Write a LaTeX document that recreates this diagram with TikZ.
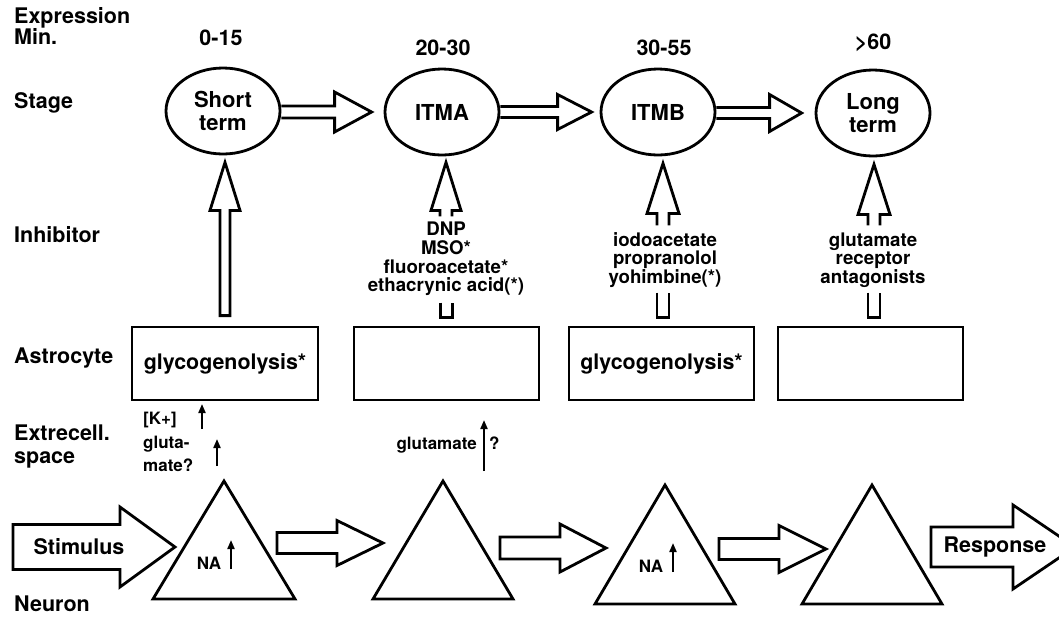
\documentclass[tikz,border=0pt]{standalone}
\usepackage{fontspec}
\setmainfont{TeX Gyre Heros}
\usetikzlibrary{shapes.geometric,arrows.meta,calc}
% horizontal block arrow: start, tip, shaft half-height, head half-height, head length, ending
\newcommand\hblock[6]{\draw[blk] let \p1=(#1),\p2=(#2) in (\x1,\y2+#3) -- (\x2-#5,\y2+#3) -- (\x2-#5,\y2+#4) -- (\x2,\y2) -- (\x2-#5,\y2-#4) -- (\x2-#5,\y2-#3) -- (\x1,\y2-#3) #6;}
% vertical block arrow pointing up: bottom, tip, shaft half-width, head half-width, head length, ending
\newcommand\vblock[6]{\draw[blk] let \p1=(#1),\p2=(#2) in (\x2-#3,\y1) -- (\x2-#3,\y2-#5) -- (\x2-#4,\y2-#5) -- (\x2,\y2) -- (\x2+#4,\y2-#5) -- (\x2+#3,\y2-#5) -- (\x2+#3,\y1) #6;}
% U-shaped stub: bottom, top, half-width
\newcommand\ublock[3]{\draw[blk] let \p1=(#1),\p2=(#2) in (\x1-#3,\y2) -- (\x1-#3,\y1) -- (\x1+#3,\y1) -- (\x1+#3,\y2);}
\begin{document}
\begin{tikzpicture}[x=1pt,y=-1pt,
  every node/.style={inner sep=0pt},
  lbl/.style={anchor=mid west,font=\fontsize{21.5}{24}\selectfont\bfseries},
  num/.style={font=\fontsize{21.5}{24}\selectfont\bfseries},
  stg/.style={ellipse,draw,line width=2.8pt,fill=white,minimum width=114pt,minimum height=86pt,align=center,font=\fontsize{22}{23}\selectfont\bfseries},
  box/.style={draw,line width=2.8pt,minimum height=73pt,font=\fontsize{21.4}{22}\selectfont\bfseries},
  inh/.style={align=center,font=\fontsize{18.7}{18.6}\selectfont\bfseries},
  sml/.style={font=\fontsize{17}{17}\selectfont\bfseries},
  tri/.style={draw,line width=2.8pt,line join=miter},
  blk/.style={draw,line width=2.8pt,line join=miter},
  up/.style={-{Triangle[length=9pt,width=7pt]},line width=2pt},
]
\useasboundingbox[fill=white] (0,0) rectangle (1059,625);

% row labels
\node[lbl] (lexp) at (14,21) {Expression};
\node[lbl] (lmin) at (14,42) {Min.};
\node[lbl] (lstage) at (14,106) {Stage};
\node[lbl] (linh) at (14,240) {Inhibitor};
\node[lbl] (last) at (14,361) {Astrocyte};
\node[lbl] (lext) at (14,438) {Extrecell.};
\node[lbl] (lspace) at (14,461) {space};
\node[lbl] (lneu) at (14,609) {Neuron};

% times
\node[num] (t1) at (221,38) {0-15};
\node[num] (t2) at (443,48) {20-30};
\node[num] (t3) at (664,48) {30-55};
\node[num] (t4) at (873,43) {>60};

% stages
\node[stg] (st) at (223,111) {Short\\term};
\node[stg] (itma) at (442,112) {ITMA};
\node[stg] (itmb) at (658,112) {ITMB};
\node[stg] (lt) at (873,113) {Long\\term};

\hblock{st.east}{$(itma.west)+(-12,0)$}{6}{20}{37}{}
\hblock{itma.east}{$(itmb.west)+(-8,0)$}{5.5}{17.5}{34}{}
\hblock{itmb.east}{$(lt.west)+(-13,0)$}{5.5}{18.5}{32}{}

% astrocyte boxes
\node[box,minimum width=186pt] (b1) at (225,363.5) {glycogenolysis*};
\node[box,minimum width=185pt] (b2) at (446.5,363.5) {};
\node[box,minimum width=185pt] (b3) at (661.5,363.5) {glycogenolysis*};
\node[box,minimum width=185pt] (b4) at (870.5,363.5) {};

% inhibitor arrows
\vblock{$(b1.north)+(0,-10)$}{$(st.south)+(2,7)$}{5}{15}{48}{-- cycle}
\vblock{$(itma.south)+(4,60)$}{$(itma.south)+(4,6)$}{6}{15}{48}{}
\ublock{$(b2.north)+(0,-8)$}{$(b2.north)+(0,-23)$}{6}
\vblock{$(itmb.south)+(5,69)$}{$(itmb.south)+(5,7)$}{6}{16}{50}{}
\ublock{$(b3.north)+(1.5,-8)$}{$(b3.north)+(1.5,-33)$}{6}
\vblock{$(lt.south)+(1,68)$}{$(lt.south)+(1,7)$}{6}{16}{50}{}
\ublock{$(b4.north)+(3.5,-8)$}{$(b4.north)+(3.5,-33)$}{6}

\node[inh] (i2) at (446,259) {DNP\\MSO*\\fluoroacetate*\\ethacrynic acid(*)};
\node[inh] (i3) at (665,260) {iodoacetate\\propranolol\\yohimbine(*)};
\node[inh] (i4) at (873,260) {glutamate\\receptor\\antagonists};

% extracellular space
\node[sml,anchor=mid west] (k) at (143,422) {[K+]};
\node[sml,anchor=mid west] (g1) at (143,446) {gluta-};
\node[sml,anchor=mid west] (g2) at (143,469) {mate?};
\coordinate (ka) at (202,429);
\coordinate (kb) at (202,404);
\draw[up] (ka) -- (kb);
\coordinate (ga) at (217,466);
\coordinate (gb) at (217,439);
\draw[up] (ga) -- (gb);
\node[sml,anchor=mid east] (glu) at (477,447) {glutamate};
\node[sml,anchor=mid west] (q) at (489,447) {?};
\coordinate (gua) at (484,471);
\coordinate (gub) at (484,420);
\draw[up] (gua) -- (gub);

% neurons
\coordinate (n1) at (224,481);
\coordinate (n2) at (443,481);
\coordinate (n3) at (665,485);
\coordinate (n4) at (872,485);
\draw[tri] (n1) -- ++(71,118) -- ++(-142,0) -- cycle;
\draw[tri] (n2) -- ++(70,118) -- ++(-140,0) -- cycle;
\draw[tri] (n3) -- ++(70,119) -- ++(-140,0) -- cycle;
\draw[tri] (n4) -- ++(70,119) -- ++(-140,0) -- cycle;

\node[sml] (na1) at (209,563) {NA};
\coordinate (na1a) at (231,569);
\coordinate (na1b) at (231,540);
\draw[up] (na1a) -- (na1b);
\node[sml] (na3) at (651,566) {NA};
\coordinate (na3a) at (673,572);
\coordinate (na3b) at (673,543);
\draw[up] (na3a) -- (na3b);

% neuron row arrows
\coordinate (stimL) at (13,547);
\coordinate (stimT) at (175,547);
\hblock{stimL}{stimT}{22.5}{40}{55}{-- cycle}
\node[num] (stim) at (79,547) {Stimulus};

\coordinate (a12s) at (277,543);
\coordinate (a12t) at (383,543);
\hblock{a12s}{a12t}{10.5}{22.5}{46}{-- cycle}
\coordinate (a23s) at (500,548);
\coordinate (a23t) at (606,548);
\hblock{a23s}{a23t}{11}{24}{46}{-- cycle}
\coordinate (a34s) at (719,549);
\coordinate (a34t) at (826,549);
\hblock{a34s}{a34t}{10.5}{23.5}{47}{-- cycle}

\coordinate (respS) at (931,547);
\coordinate (respT) at (1075,547);
\hblock{respS}{respT}{20}{42}{62}{-- cycle}
\node[num] (resp) at (995,547) {Response};
\end{tikzpicture}
\end{document}
